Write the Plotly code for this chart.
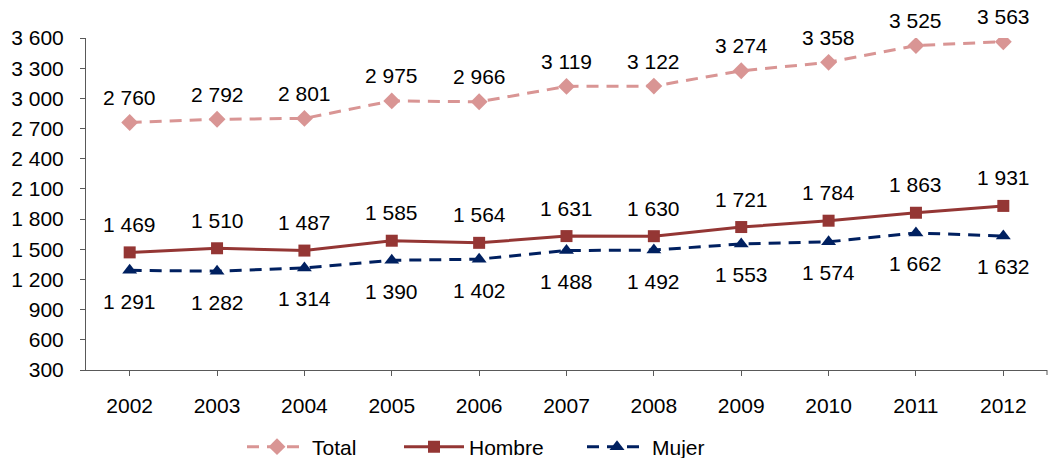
import plotly.graph_objects as go

years = ["2002", "2003", "2004", "2005", "2006", "2007", "2008", "2009", "2010", "2011", "2012"]
total = [2760, 2792, 2801, 2975, 2966, 3119, 3122, 3274, 3358, 3525, 3563]
hombre = [1469, 1510, 1487, 1585, 1564, 1631, 1630, 1721, 1784, 1863, 1931]
mujer = [1291, 1282, 1314, 1390, 1402, 1488, 1492, 1553, 1574, 1662, 1632]
y_ticks = [300, 600, 900, 1200, 1500, 1800, 2100, 2400, 2700, 3000, 3300, 3600]

FONT = "Liberation Sans, Arial, sans-serif"
FS = 21
W, H = 1048, 458
C_TOTAL = "#D99594"
C_HOMBRE = "#943634"
C_MUJER = "#002060"
C_AXIS = "#595959"


def fmt(v):
    return f"{v:,}".replace(",", " ")


xs = list(range(len(years)))

fig = go.Figure()
fig.add_trace(go.Scatter(
    x=xs, y=total, name="Total", mode="lines+markers", legend="legend",
    line=dict(color=C_TOTAL, width=3, dash="12px,8px"),
    marker=dict(symbol="diamond", size=13, color=C_TOTAL),
))
fig.add_trace(go.Scatter(
    x=xs, y=hombre, name="Hombre", mode="lines+markers", legend="legend2",
    line=dict(color=C_HOMBRE, width=3),
    marker=dict(symbol="square", size=12, color=C_HOMBRE),
))
fig.add_trace(go.Scatter(
    x=xs, y=mujer, name="Mujer", mode="lines+markers", legend="legend3",
    line=dict(color=C_MUJER, width=3, dash="12px,8px"),
    marker=dict(symbol="triangle-up", size=13, color=C_MUJER),
))

# value labels: Total and Hombre above the markers, Mujer below
for series, shift in ((total, 25), (hombre, 28), (mujer, -31)):
    for x, v in zip(xs, series):
        fig.add_annotation(
            x=x, y=v, text=fmt(v), showarrow=False, yshift=shift,
            font=dict(family=FONT, size=FS, color="#000000"),
        )

# closing tick mark at the right end of the category axis
fig.add_shape(
    type="line", xref="paper", yref="paper",
    x0=1, x1=1, y0=0, y1=-5 / 332,
    line=dict(color=C_AXIS, width=1),
)


def legend_box(left_px):
    return dict(
        orientation="h", xref="container", yref="container",
        x=left_px / W, xanchor="left", y=1 - 447 / H, yanchor="middle",
        font=dict(family=FONT, size=FS, color="#000000"),
        itemwidth=60, bgcolor="rgba(0,0,0,0)", borderwidth=0,
    )


fig.update_layout(
    width=W, height=H,
    margin=dict(l=86, r=1, t=38, b=88, autoexpand=False),
    paper_bgcolor="white", plot_bgcolor="white",
    font=dict(family=FONT, size=FS, color="#000000"),
    showlegend=True,
    legend=legend_box(242),
    legend2=legend_box(399),
    legend3=legend_box(582),
)
fig.update_xaxes(
    range=[-0.5, len(years) - 0.5],
    tickvals=xs, ticktext=years,
    showline=True, linecolor=C_AXIS, linewidth=1,
    ticks="outside", ticklen=5, tickcolor=C_AXIS,
    ticklabelstandoff=12,
    showgrid=False, zeroline=False, automargin=False,
    tickfont=dict(family=FONT, size=FS, color="#000000"),
)
fig.update_yaxes(
    range=[300, 3600],
    tickvals=y_ticks, ticktext=[fmt(t) for t in y_ticks],
    showline=True, linecolor=C_AXIS, linewidth=1,
    ticks="outside", ticklen=5, tickcolor=C_AXIS,
    ticklabelstandoff=12,
    showgrid=False, zeroline=False, automargin=False,
    tickfont=dict(family=FONT, size=FS, color="#000000"),
)

fig.write_html("out.html")
